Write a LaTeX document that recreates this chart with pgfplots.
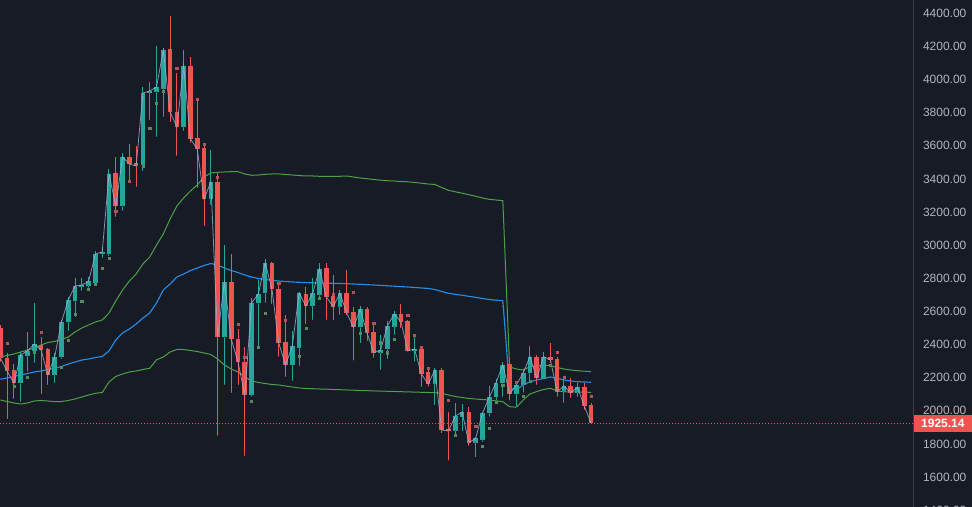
\documentclass[border=0pt]{standalone}
\usepackage{pgfplots}
\pgfplotsset{compat=1.18}
\usepackage{pgfplotstable}
\usepgfplotslibrary{fillbetween}
\usepackage{fontspec}
\setmainfont{Liberation Sans}
\definecolor{bg}{RGB}{23,27,37}
\definecolor{gridc}{RGB}{38,42,53}
\definecolor{axisc}{RGB}{60,64,76}
\definecolor{tickc}{RGB}{178,181,190}
\definecolor{upc}{RGB}{38,166,154}
\definecolor{downc}{RGB}{239,83,80}
\definecolor{bandg}{RGB}{76,160,70}
\definecolor{bandb}{RGB}{36,140,230}
\definecolor{closec}{RGB}{150,175,215}
\definecolor{dotg}{RGB}{85,140,95}
\definecolor{dotr}{RGB}{175,85,90}

\pgfplotstableread{
i O H L C
0 2500 2518 2295 2319
1 2319 2349 1950 2240
2 2246 2282.5 2074 2166
3 2166 2356.7 2054.8 2337
4 2330.8 2477.5 2236 2361
5 2361 2652.6 2286.7 2403.2
6 2397.2 2445.5 2101.3 2367
7 2373 2379 2155.7 2216
8 2216 2349 2167.7 2324.7
9 2324.7 2548 2312.7 2536
10 2536 2687 2481.7 2669
11 2663 2801.7 2566.3 2753.4
12 2749.2 2801.7 2723.2 2759.5
13 2755.2 2807.8 2741.4 2781.8
14 2771.5 2964.8 2759.5 2946.6
15 2946.6 2988.9 2922.5 2958.7
16 2946.6 3459.9 2934.6 3429.7
17 3435.7 3532.3 3170 3236.5
18 3236.5 3556.5 3206.3 3532.3
19 3532.3 3610.8 3381.4 3490
20 3496 3598.8 3351.2 3478
21 3484 3955 3447.8 3918.8
22 3918.8 3985.2 3755.7 3930.8
23 3924.8 4202.6 3653.1 3955
24 3942.9 4190.5 3773.9 4178.4
25 4184.4 4383.7 3743.7 3804
26 3804 4039.5 3538.4 3713.5
27 3713.5 4178.4 3689.3 4081.8
28 4081.8 4136.1 3616.9 3641
29 3647.1 3888.6 3345.2 3580.6
30 3586.7 3604.8 3115.7 3278.7
31 3278.7 3574.6 3242.5 3381.4
32 3381.4 3435.7 1847.7 2445.5
33 2445.5 3001 2155.7 2777.6
34 2777.6 2946.6 2107.4 2433.4
35 2433.4 2493.8 2155.7 2294.5
36 2294.5 2385.1 1727 2095.3
37 2095.3 2681 2083.2 2650.8
38 2650.8 2789.7 2385.1 2705.1
39 2711.2 2916.5 2650.8 2892.3
40 2892.3 2900 2644.7 2735.3
41 2735.3 2771.5 2324.7 2409.3
42 2415.3 2578.3 2204 2276.4
43 2276.4 2481.7 2179.8 2391.2
44 2379 2717.2 2270.4 2711.2
45 2705.1 2747.4 2524 2632.7
46 2632.7 2803.5 2548 2709.3
47 2699.1 2890.5 2669 2856.1
48 2860.3 2890.5 2548 2688.8
49 2693.1 2819.8 2548 2628.4
50 2628.4 2729.3 2578.3 2709.3
51 2709.3 2850 2578.3 2592.2
52 2596.4 2628.4 2302.4 2504.1
53 2504.1 2632.7 2407.5 2612.8
54 2612.8 2624.8 2423.2 2471.5
55 2475.7 2531.8 2320.5 2350.7
56 2350.7 2457.6 2246 2367
57 2373 2543.9 2310.8 2511.9
58 2507.7 2602.5 2457.6 2584.4
59 2584.4 2644.7 2498 2537.9
60 2542.1 2548 2356.7 2362.8
61 2362.8 2457.6 2296.4 2373
62 2373 2383.3 2141.8 2222.1
63 2236 2266.2 2145.4 2161.7
64 2161.7 2256.5 2034.9 2246
65 2246 2256.5 1864 1884
66 1891.8 1994.4 1698.6 1877.9
67 1879.7 2045.2 1839.9 1968.5
68 1960.6 2040.9 1877.9 1990.8
69 1990.8 2021 1789.1 1807.3
70 1807.3 1843.5 1719.1 1833.8
71 1823.6 1994.4 1811.5 1984.8
72 1984.8 2149.6 1964.3 2081.4
73 2081.4 2190.1 2065.1 2169.6
74 2166 2294.5 2085 2276.4
75 2282.5 2294.5 2060.7 2101.3
76 2101.3 2175.6 2021 2155.7
77 2155.7 2250.5 2109.2 2229.9
78 2226.3 2391.2 2169.6 2326.5
79 2326.5 2336.8 2155.7 2196.1
80 2190.1 2353.1 2185.8 2326.5
81 2326.5 2411.1 2286.7 2307.6
82 2312.7 2326.5 2085 2115.2
83 2115.2 2196.1 2048.8 2149.6
84 2149.6 2196.1 2075.4 2109.2
85 2109.2 2169.6 2081.4 2141.8
86 2141.8 2169.6 2004.7 2028.9
87 2034.9 2045.2 1920 1925.14
}\candles

\pgfplotstableread{
i U M Lb
0 2324.7 2190.1 2065.1
1 2333.8 2197.9 2056
2 2342.8 2207 2047
3 2354.9 2216 2040.9
4 2367 2225.1 2047
5 2379.1 2234.2 2059.1
6 2397.2 2240.2 2062.1
7 2412.3 2249.3 2059.1
8 2418.3 2255.3 2054.8
9 2430.4 2267.4 2056
10 2445.5 2282.5 2062.1
11 2475.7 2294.5 2071.1
12 2499.8 2306.6 2083.2
13 2517.9 2312.7 2095.3
14 2536.1 2321.7 2105.6
15 2548.1 2327.8 2110.4
16 2590.4 2361 2173.8
17 2662.9 2427.4 2207
18 2729.3 2469.6 2222.1
19 2783.6 2493.8 2234.2
20 2825.9 2524 2240.2
21 2886.3 2560.2 2249.3
22 2928.5 2590.4 2256.5
23 3001 2650.8 2307.6
24 3067.4 2729.3 2324.7
25 3158 2765.5 2354.9
26 3236.5 2807.8 2370
27 3284.8 2825.9 2370
28 3327 2847 2364
29 3363.3 2862.1 2357.9
30 3411.6 2877.2 2348.9
31 3435.7 2889.3 2339.8
32 3440 2880.2 2312.7
33 3441.8 2862.1 2276.4
34 3443.6 2847 2252.3
35 3443.6 2834.9 2234.2
36 3429.7 2819.8 2204
37 3421.8 2807.8 2179.8
38 3423.6 2798.7 2170.8
39 3427.9 2792.7 2164.7
40 3429.7 2787.8 2158.7
41 3429.7 2783.6 2155.7
42 3426.7 2780.6 2149.6
43 3423.6 2777.6 2143.6
44 3420.6 2775.8 2137.6
45 3417.6 2774 2134.5
46 3417.6 2772.8 2133.3
47 3415.8 2771.5 2131.5
48 3414.6 2770.3 2130.3
49 3414.6 2769.7 2128.5
50 3415.8 2768.5 2127.3
51 3417.6 2767.3 2125.5
52 3411.6 2765.5 2124.3
53 3405.5 2763.7 2122.5
54 3401.3 2761.3 2121.3
55 3396.5 2759.5 2120
56 3392.3 2757.1 2118.8
57 3389.2 2754.6 2117.6
58 3387.4 2752.2 2116.4
59 3384.4 2749.8 2115.2
60 3382.6 2747.4 2114
61 3378.4 2744.4 2112.8
62 3374.1 2741.4 2111.6
63 3369.3 2738.3 2110.4
64 3366.3 2732.3 2109.2
65 3348.2 2720.2 2105.6
66 3331.3 2709.3 2095.3
67 3322.2 2703.3 2086.2
68 3313.8 2697.3 2080.2
69 3304.7 2691.2 2074.2
70 3295 2685.2 2071.1
71 3284.8 2678 2068.1
72 3276.9 2671.9 2065.1
73 3272.7 2667.7 2060.3
74 3268.5 2664.7 2054.8
75 2264.4 2137.6 2024.7
76 2252.3 2125.5 2021
77 2246.2 2155.7 2065.1
78 2266.2 2175.6 2101.3
79 2270.4 2185.8 2116.4
80 2274.6 2194.9 2128.5
81 2273.4 2204 2135.7
82 2261.3 2196.1 2119.4
83 2252.3 2185.8 2115.2
84 2246.2 2179.8 2113.4
85 2242 2175.6 2113.4
86 2239 2173.8 2112.2
87 2236 2172 2111.6
}\bands

\pgfplotstableread{
i y
2 2147.8
4 2202.2
5 2356.1
9 2262.5
10 2424.4
11 2582.6
12 2659.9
13 2733.5
14 2764.3
15 2860.3
16 2920.7
21 3478
22 3705.6
23 3856.6
24 3930.8
37 2056
38 2382.1
39 2588.6
44 2329
45 2498
47 2679.2
53 2467.8
56 2411.1
57 2350.7
58 2431.6
67 1853.8
71 1787.4
72 1894.2
73 2051.2
74 2155.7
77 2089.3
78 2179.8
81 2276.4
}\gdots

\pgfplotstableread{
i y
1 2407.5
6 2474.5
17 3206.3
19 3384.4
26 4067.9
29 3880.7
30 3609
32 3408.6
35 2522.8
36 2322.9
41 2769.7
42 2545.1
49 2703.3
52 2715.4
55 2528.2
60 2577.1
61 2455.8
62 2383.3
63 2256.5
66 2065.1
70 1908.1
76 2172
82 2353.1
83 2202.2
87 2089.3
}\rdots

\pgfplotsset{
  candle/.style={only marks, mark=*, mark size=0.01pt,
    mark options={draw=none, fill=none}, forget plot,
    error bars/.cd, y dir=plus, y explicit, error mark=none,
    error bar style={draw=#1, line width=0.75pt}},
  body/.style={only marks, mark=*, mark size=0.01pt,
    mark options={draw=none, fill=none}, forget plot,
    error bars/.cd, y dir=plus, y explicit, error mark=none,
    error bar style={draw=#1, line width=3.5pt}},
}

\begin{document}
\begin{tikzpicture}
\fill[bg] (0,0) rectangle (729pt,380.25pt);
\begin{axis}[
  at={(0,0)}, anchor=south west,
  scale only axis, width=684.975pt, height=380.25pt,
  xmin=-0.05, xmax=134.45, ymin=1419, ymax=4480.3,
  axis line style={draw=none},
  clip mode=individual,
  xtick={1.951,13.925,30.08,44.96,57.93,74.63,92.89,105.87,120.74},
  xticklabels={},
  xtick style={draw=none},
  xmajorgrids, ymajorgrids,
  grid style={draw=gridc, line width=0.75pt},
  ytick={1600,1800,...,4400},
  ytick pos=right, yticklabel pos=right,
  tick align=outside, major tick length=3.75pt,
  ytick style={draw=axisc, line width=0.75pt},
  yticklabel style={text=tickc, font=\fontsize{9}{10}\selectfont, anchor=west},
  /pgf/number format/.cd, fixed, fixed zerofill, precision=2, 1000 sep={}, assume math mode=true
]
% band fill
\addplot[name path=ub, draw=none, forget plot] table[x=i,y=U]{\bands};
\addplot[name path=lb, draw=none, forget plot] table[x=i,y=Lb]{\bands};
\addplot[fill=bandg, fill opacity=0.075, draw=none, forget plot] fill between[of=ub and lb];
% band lines
\addplot[bandg, line width=0.75pt, mark=none] table[x=i,y=U]{\bands};
\addplot[bandg, line width=0.75pt, mark=none] table[x=i,y=Lb]{\bands};
\addplot[bandb, line width=0.85pt, mark=none] table[x=i,y=M]{\bands};
% up candles
\addplot[candle=upc]
  table[x=i, y expr={\thisrow{C}>=\thisrow{O} ? \thisrow{L} : nan}, y error expr={\thisrow{H}-\thisrow{L}}]{\candles};
\addplot[body=upc]
  table[x=i, y expr={\thisrow{C}>=\thisrow{O} ? \thisrow{O} : nan}, y error expr={max(\thisrow{C}-\thisrow{O},5)}]{\candles};
% down candles
\addplot[candle=downc]
  table[x=i, y expr={\thisrow{C}<\thisrow{O} ? \thisrow{L} : nan}, y error expr={\thisrow{H}-\thisrow{L}}]{\candles};
\addplot[body=downc]
  table[x=i, y expr={\thisrow{C}<\thisrow{O} ? \thisrow{C} : nan}, y error expr={max(\thisrow{O}-\thisrow{C},5)}]{\candles};
% close line
\addplot[closec, line width=0.6pt, opacity=0.8, mark=none] table[x=i,y=C]{\candles};
% dots
\addplot[only marks, mark=square*, mark size=0.85pt, color=dotg] table[x=i,y=y]{\gdots};
\addplot[only marks, mark=square*, mark size=0.85pt, color=dotr] table[x=i,y=y]{\rdots};
% last price line
\addplot[downc, line width=0.9pt, dash pattern=on 1pt off 1.25pt, mark=none] coordinates {(-0.05,1925.14) (134.45,1925.14)};
% right axis line
\draw[axisc, line width=0.75pt] (rel axis cs:1,0) -- (rel axis cs:1,1);
\node[anchor=west, text=tickc, font=\fontsize{9}{10}\selectfont, xshift=3.75pt] at (axis cs:134.45,1400) {1400.00};
\node[fill=downc, text=white, font=\bfseries\fontsize{9}{10}\selectfont, anchor=west, minimum width=44pt, minimum height=12.5pt, inner sep=0pt] at (axis cs:134.45,1925.14) {1925.14};
\end{axis}
\pgfresetboundingbox
\useasboundingbox (0,0) rectangle (729pt,380.25pt);
\end{tikzpicture}
\end{document}
